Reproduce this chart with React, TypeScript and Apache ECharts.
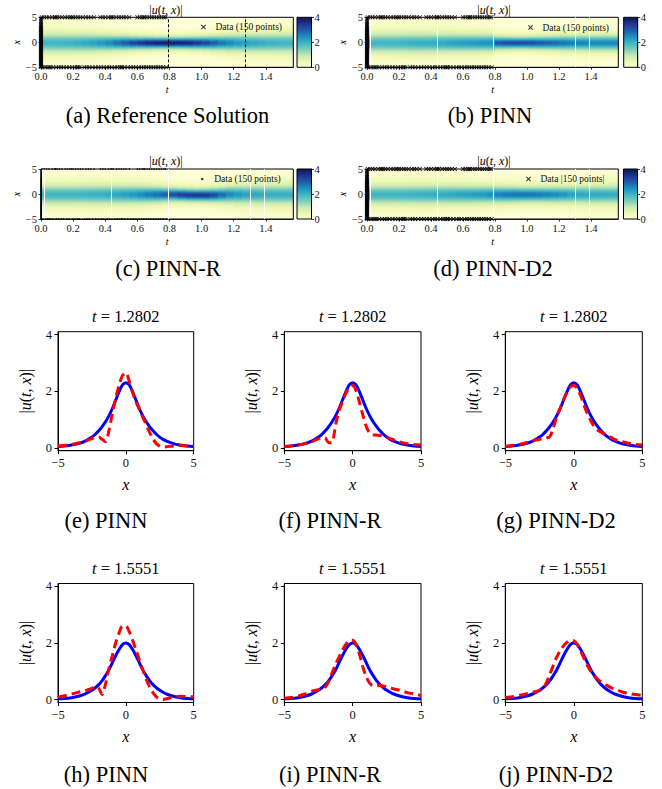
import React, { useEffect, useRef } from "react";
import * as echarts from "echarts";

const FONT = "Liberation Serif";
const T_END = Math.PI / 2;

// ---- heatmap time columns (start of each column) ----
const tCols = [0, 0.05, 0.1, 0.15, 0.2, 0.25, 0.3, 0.35, 0.4, 0.45, 0.5, 0.55, 0.6, 0.65, 0.7, 0.75, 0.8, 0.85, 0.9, 0.95, 1.0, 1.05, 1.1, 1.15, 1.2, 1.25, 1.3, 1.35, 1.4, 1.45, 1.5, 1.55];

// peak |u| and band half-width per time column
const refPeak = [2.0, 2.0, 2.02, 2.05, 2.1, 2.17, 2.27, 2.4, 2.57, 2.8, 3.05, 3.3, 3.52, 3.7, 3.82, 3.88, 3.88, 3.82, 3.7, 3.52, 3.3, 3.05, 2.8, 2.57, 2.4, 2.3, 2.22, 2.14, 2.08, 2.04, 2.01, 2.0];
const refWidth = [1.25, 1.25, 1.24, 1.21, 1.19, 1.15, 1.1, 1.04, 0.98, 0.89, 0.83, 0.76, 0.71, 0.68, 0.65, 0.64, 0.64, 0.65, 0.68, 0.71, 0.76, 0.83, 0.89, 0.98, 1.04, 1.1, 1.13, 1.16, 1.2, 1.23, 1.25, 1.25];
const refCenter = [0, 0, 0, 0, 0, 0, 0, 0, 0, 0, 0, 0, 0, 0, 0, 0, 0, 0, 0, 0, 0, 0, 0, 0, 0, 0, 0, 0, 0, 0, 0, 0];

const pinnPeak = [2.0, 2.0, 2.0, 2.02, 2.05, 2.08, 2.1, 2.12, 2.15, 2.2, 2.25, 2.3, 2.35, 2.4, 2.45, 2.5, 3.1, 3.2, 3.25, 3.25, 3.2, 3.1, 3.0, 2.9, 2.8, 2.7, 2.65, 2.6, 2.6, 2.6, 2.6, 2.6];
const pinnWidth = [1.25, 1.25, 1.25, 1.25, 1.25, 1.25, 1.25, 1.25, 1.23, 1.2, 1.18, 1.15, 1.13, 1.1, 1.08, 1.05, 0.75, 0.73, 0.7, 0.7, 0.73, 0.75, 0.79, 0.83, 0.88, 0.9, 0.93, 0.95, 0.95, 0.95, 0.95, 0.95];
const pinnCenter = [0, 0, 0, 0, 0, 0, 0, 0, 0, 0, 0, 0, 0, 0, 0, 0, 0, 0, 0, 0, 0, 0, 0, 0, 0, 0, 0, 0, 0, 0, 0, 0];

const pinnRPeak = [2.0, 2.0, 2.0, 2.0, 2.02, 2.05, 2.08, 2.1, 2.15, 2.2, 2.3, 2.4, 2.55, 2.7, 2.85, 3.0, 3.2, 3.4, 3.5, 3.55, 3.5, 3.3, 2.9, 2.6, 2.4, 2.25, 2.2, 2.15, 2.12, 2.1, 2.1, 2.1];
const pinnRWidth = [1.25, 1.25, 1.25, 1.25, 1.25, 1.25, 1.25, 1.25, 1.23, 1.2, 1.16, 1.13, 1.08, 1.0, 0.93, 0.85, 0.79, 0.75, 0.73, 0.71, 0.73, 0.78, 0.88, 1.0, 1.1, 1.15, 1.19, 1.21, 1.23, 1.25, 1.25, 1.25];
const pinnRCenter = [0, 0, 0, 0, 0, 0, 0, 0, 0, 0, 0, 0, 0, 0, 0, 0, 0, -0.05, -0.1, -0.12, -0.12, -0.1, -0.05, 0, 0, 0, 0, 0, 0, 0, 0, 0];

const pinnD2Peak = [2.0, 2.0, 2.0, 2.02, 2.04, 2.06, 2.08, 2.1, 2.12, 2.15, 2.2, 2.25, 2.3, 2.35, 2.4, 2.5, 2.65, 2.75, 2.8, 2.8, 2.78, 2.72, 2.65, 2.55, 2.45, 2.3, 2.22, 2.2, 2.18, 2.15, 2.12, 2.1];
const pinnD2Width = [1.25, 1.25, 1.25, 1.25, 1.25, 1.25, 1.25, 1.25, 1.23, 1.21, 1.19, 1.16, 1.14, 1.11, 1.09, 1.05, 1.0, 0.95, 0.93, 0.91, 0.91, 0.93, 0.95, 0.98, 1.0, 1.05, 1.1, 1.13, 1.15, 1.16, 1.18, 1.19];
const pinnD2Center = [0, 0, 0, 0, 0, 0, 0, 0, 0, 0, 0, 0, 0, 0, 0, 0, 0, 0, 0, 0, 0, 0, 0, 0, 0, 0, 0, 0, 0, 0, 0, 0];

// vertical slice lines
const refSliceT = [0.79, 1.27];
const gapT = [0.02, 0.437, 0.786, 1.296, 1.39];

// training data (150 points): initial x at t=0, boundary times at x=5 and x=-5
const initX = [-4.95, -4.75, -4.6, -4.4, -4.2, -4.05, -3.85, -3.7, -3.5, -3.3, -3.15, -2.95, -2.8, -2.6, -2.45, -2.25, -2.05, -1.9, -1.7, -1.5, -1.35, -1.15, -1.0, -0.8, -0.6, -0.45, -0.25, -0.1, 0.1, 0.3, 0.45, 0.65, 0.8, 1.0, 1.2, 1.35, 1.55, 1.75, 1.9, 2.1, 2.3, 2.5, 2.7, 2.9, 3.15, 3.4, 3.7, 4.0, 4.35, 4.75];
const topT = [0.005, 0.02, 0.035, 0.05, 0.07, 0.085, 0.1, 0.115, 0.13, 0.15, 0.165, 0.18, 0.2, 0.215, 0.23, 0.245, 0.26, 0.28, 0.295, 0.31, 0.33, 0.37, 0.385, 0.4, 0.42, 0.435, 0.45, 0.47, 0.485, 0.5, 0.515, 0.53, 0.55, 0.6, 0.615, 0.63, 0.645, 0.66, 0.675, 0.69, 0.705, 0.72, 0.735, 0.75, 0.765, 0.775, 0.09, 0.19, 0.44, 0.64];
const botT = [0.01, 0.025, 0.04, 0.06, 0.075, 0.095, 0.11, 0.125, 0.14, 0.16, 0.175, 0.195, 0.21, 0.225, 0.24, 0.27, 0.285, 0.3, 0.32, 0.34, 0.355, 0.375, 0.39, 0.41, 0.425, 0.44, 0.46, 0.475, 0.49, 0.505, 0.52, 0.54, 0.56, 0.575, 0.59, 0.61, 0.625, 0.64, 0.655, 0.67, 0.685, 0.7, 0.715, 0.73, 0.745, 0.76, 0.78, 0.05, 0.23, 0.5];

// ---- line profiles ----
const xs = [-5, -4.5, -4, -3.5, -3, -2.5, -2.25, -2, -1.75, -1.5, -1.25, -1, -0.75, -0.5, -0.25, 0, 0.25, 0.5, 0.75, 1, 1.25, 1.5, 1.75, 2, 2.25, 2.5, 2.75, 3, 3.5, 4, 4.5, 5];
const exact128 = [0.05, 0.07, 0.1, 0.15, 0.24, 0.38, 0.48, 0.6, 0.75, 0.92, 1.13, 1.38, 1.68, 1.98, 2.22, 2.3, 2.22, 1.98, 1.68, 1.38, 1.13, 0.92, 0.75, 0.6, 0.48, 0.38, 0.3, 0.24, 0.15, 0.1, 0.07, 0.05];
const exact155 = [0.03, 0.04, 0.07, 0.12, 0.2, 0.33, 0.42, 0.53, 0.67, 0.85, 1.05, 1.3, 1.55, 1.77, 1.94, 2.0, 1.94, 1.77, 1.55, 1.3, 1.05, 0.85, 0.67, 0.53, 0.42, 0.33, 0.26, 0.2, 0.12, 0.07, 0.04, 0.03];
const pinn128 = [0.07, 0.09, 0.12, 0.17, 0.24, 0.33, 0.38, 0.38, 0.3, 0.22, 0.6, 1.2, 1.75, 2.2, 2.55, 2.65, 2.35, 1.95, 1.62, 1.35, 1.08, 0.82, 0.55, 0.32, 0.15, 0.06, 0.03, 0.04, 0.07, 0.08, 0.07, 0.06];
const pinnR128 = [0.05, 0.07, 0.1, 0.15, 0.22, 0.32, 0.37, 0.35, 0.18, 0.2, 0.8, 1.3, 1.62, 1.92, 2.12, 2.2, 2.02, 1.6, 1.15, 0.75, 0.52, 0.46, 0.45, 0.44, 0.42, 0.38, 0.33, 0.28, 0.2, 0.15, 0.12, 0.1];
const pinnD2128 = [0.05, 0.08, 0.12, 0.18, 0.25, 0.3, 0.32, 0.35, 0.4, 0.7, 1.1, 1.4, 1.7, 1.95, 2.15, 2.2, 2.1, 1.85, 1.5, 1.2, 0.95, 0.75, 0.62, 0.55, 0.48, 0.42, 0.36, 0.3, 0.22, 0.16, 0.12, 0.1];
const pinn155 = [0.09, 0.14, 0.2, 0.26, 0.32, 0.4, 0.46, 0.4, 0.18, 0.55, 1.1, 1.55, 2.0, 2.35, 2.6, 2.6, 2.4, 2.1, 1.75, 1.4, 1.05, 0.72, 0.45, 0.25, 0.1, 0.03, 0.01, 0.03, 0.09, 0.12, 0.11, 0.1];
const pinnR155 = [0.05, 0.08, 0.12, 0.2, 0.3, 0.35, 0.36, 0.45, 0.65, 0.95, 1.25, 1.5, 1.75, 1.95, 2.08, 2.1, 1.95, 1.6, 1.15, 0.8, 0.58, 0.5, 0.5, 0.5, 0.48, 0.45, 0.42, 0.38, 0.32, 0.25, 0.2, 0.15];
const pinnD2155 = [0.08, 0.1, 0.15, 0.2, 0.26, 0.32, 0.4, 0.6, 0.9, 1.2, 1.5, 1.72, 1.9, 2.02, 2.1, 2.08, 1.95, 1.72, 1.45, 1.2, 1.0, 0.85, 0.72, 0.62, 0.55, 0.48, 0.42, 0.37, 0.28, 0.22, 0.18, 0.15];

const YLGNBU = ["#ffffd9", "#edf8b1", "#c7e9b4", "#7fcdbb", "#41b6c4", "#1d91c0", "#225ea8", "#253494", "#081d58"];
const XPATH = "path://M0,1.4L1.4,0L5,3.6L8.6,0L10,1.4L6.4,5L10,8.6L8.6,10L5,6.4L1.4,10L0,8.6L3.6,5Z";

const minusFmt = (v: number) => String(v).replace("-", "\u2212");
const italic = (size: number) => ({ i: { fontStyle: "italic", fontFamily: FONT, fontSize: size, color: "#000" } });

function fieldCells(peak: number[], width: number[], center: number[]) {
  const cells: number[][] = [];
  for (let i = 0; i < tCols.length; i++) {
    const t0 = tCols[i];
    const t1 = Math.min(t0 + 0.05, T_END);
    for (let j = 0; j < 50; j++) {
      const x0 = -5 + 0.2 * j;
      const x1 = x0 + 0.2;
      const xc = x0 + 0.1;
      const v = peak[i] / Math.cosh((xc - center[i]) / width[i]);
      cells.push([t0, t1, x0, x1, v]);
    }
  }
  return cells;
}

function colorbarCells() {
  const cells: number[][] = [];
  for (let k = 0; k < 100; k++) {
    const v0 = k * 0.04;
    cells.push([0, 1, v0, v0 + 0.04, v0 + 0.02]);
  }
  return cells;
}

const renderRect = (params: any, api: any) => {
  const a = api.coord([api.value(0), api.value(3)]);
  const b = api.coord([api.value(1), api.value(2)]);
  return {
    type: "rect",
    shape: { x: a[0], y: a[1], width: b[0] - a[0] + 0.6, height: b[1] - a[1] + 0.6 },
    style: { fill: api.visual("color") },
  };
};

function buildOption() {
  const heatPos = [
    { left: 41, top: 17.3, width: 252.3, height: 50 },
    { left: 367, top: 17.3, width: 251.3, height: 50 },
    { left: 41, top: 169, width: 252.3, height: 50 },
    { left: 367, top: 169, width: 251.3, height: 50 },
  ];
  const cbPos = [
    { left: 297, top: 17.3, width: 14.5, height: 50 },
    { left: 623.7, top: 17.3, width: 14, height: 50 },
    { left: 297, top: 169, width: 14.5, height: 50 },
    { left: 623.5, top: 169, width: 14, height: 50 },
  ];
  const lineLefts = [58, 284.3, 505.3];
  const lineWidths = [135.7, 136.7, 137];
  const lineTops = [331.7, 583.5];
  const lineH = 119;

  const fields = [
    fieldCells(refPeak, refWidth, refCenter),
    fieldCells(pinnPeak, pinnWidth, pinnCenter),
    fieldCells(pinnRPeak, pinnRWidth, pinnRCenter),
    fieldCells(pinnD2Peak, pinnD2Width, pinnD2Center),
  ];
  const markerNames = ["Data (150 points)", "Data (150 points)", "Data (150 points)", "Data |150 points|"];
  const trainPts = [
    ...initX.map((x) => [0, x]),
    ...topT.map((t) => [t, 5]),
    ...botT.map((t) => [t, -5]),
  ];

  const grid: any[] = [];
  const xAxis: any[] = [];
  const yAxis: any[] = [];
  const series: any[] = [];
  const legend: any[] = [];

  const axisLineS = { show: true, onZero: false, lineStyle: { color: "#000", width: 0.8 } };
  const smallTick = { show: true, length: 2.5, lineStyle: { color: "#000", width: 0.8 } };

  // heatmap grids 0..3
  heatPos.forEach((p, k) => {
    grid.push({ ...p, show: true, borderColor: "#000", borderWidth: 1, backgroundColor: "transparent", z: 5 });
    xAxis.push({
      gridIndex: k, type: "value", min: 0, max: T_END, interval: 0.2,
      axisLine: axisLineS, axisTick: smallTick, splitLine: { show: false },
      axisLabel: {
        fontSize: 10.5, fontFamily: FONT, color: "#111", margin: 4, showMaxLabel: false,
        formatter: (v: number) => {
          const q = v / 0.2;
          return Math.abs(q - Math.round(q)) < 1e-6 ? v.toFixed(1) : "";
        },
      },
      name: "{i|t}", nameLocation: "middle", nameGap: 17,
      nameTextStyle: { fontSize: 10, fontFamily: FONT, rich: italic(10) }, z: 6,
    });
    yAxis.push({
      gridIndex: k, type: "value", min: -5, max: 5, interval: 5,
      axisLine: axisLineS, axisTick: smallTick, splitLine: { show: false },
      axisLabel: { fontSize: 10.5, fontFamily: FONT, color: "#111", margin: 4, formatter: minusFmt },
      name: "{i|x}", nameLocation: "middle", nameGap: 19,
      nameTextStyle: { fontSize: 10, fontFamily: FONT, rich: italic(10) }, z: 6,
    });
  });
  // colorbar grids 4..7
  cbPos.forEach((p, k) => {
    grid.push({ ...p, show: true, borderColor: "#000", borderWidth: 1, backgroundColor: "transparent", z: 5 });
    xAxis.push({ gridIndex: 4 + k, type: "value", min: 0, max: 1, show: false, axisLine: { onZero: false } });
    yAxis.push({
      gridIndex: 4 + k, type: "value", position: "right", min: 0, max: 4, interval: 2,
      axisLine: axisLineS, axisTick: smallTick, splitLine: { show: false },
      axisLabel: { fontSize: 10.5, fontFamily: FONT, color: "#111", margin: 3 }, z: 6,
    });
  });
  // line grids 8..13
  lineTops.forEach((top) => {
    lineLefts.forEach((left, c) => {
      const gi = grid.length;
      grid.push({ left, top, width: lineWidths[c], height: lineH, show: true, borderColor: "#000", borderWidth: 1, backgroundColor: "transparent" });
      xAxis.push({
        gridIndex: gi, type: "value", min: -5, max: 5, interval: 5,
        axisLine: { show: true, onZero: false, lineStyle: { color: "#000", width: 1 } },
        axisTick: { show: true, length: 3.5, lineStyle: { color: "#000", width: 1 } },
        splitLine: { show: false },
        axisLabel: { fontSize: 12.5, fontFamily: FONT, color: "#111", margin: 6, formatter: minusFmt },
        name: "{i|x}", nameLocation: "middle", nameGap: 26,
        nameTextStyle: { fontSize: 16, fontFamily: FONT, rich: italic(16) },
      });
      yAxis.push({
        gridIndex: gi, type: "value", min: -0.1, max: 4.1,
        axisLine: { show: true, onZero: false, lineStyle: { color: "#000", width: 1 } },
        axisTick: { show: true, length: 3.5, customValues: [0, 2, 4], lineStyle: { color: "#000", width: 1 } },
        splitLine: { show: false },
        axisLabel: { fontSize: 12.5, fontFamily: FONT, color: "#111", margin: 6, customValues: [0, 2, 4] },
        name: "|{i|u}({i|t}, {i|x})|", nameLocation: "middle", nameGap: 25,
        nameTextStyle: { fontSize: 16, fontFamily: FONT, color: "#000", rich: italic(16) },
      });
    });
  });

  // series 0..3 heat fields
  fields.forEach((data, k) => {
    series.push({
      type: "custom", xAxisIndex: k, yAxisIndex: k, data, renderItem: renderRect,
      encode: { x: [0, 1], y: [2, 3] }, clip: true, silent: true, z: 1,
    });
  });
  // series 4..7 colorbars
  cbPos.forEach((_, k) => {
    series.push({
      type: "custom", xAxisIndex: 4 + k, yAxisIndex: 4 + k, data: colorbarCells(), renderItem: renderRect,
      encode: { x: [0, 1], y: [2, 3] }, clip: true, silent: true, z: 1,
    });
  });
  // series 8..11 vertical lines
  heatPos.forEach((_, k) => {
    const isRef = k === 0;
    series.push({
      type: "scatter", xAxisIndex: k, yAxisIndex: k, data: [], silent: true, z: 2,
      markLine: {
        symbol: "none", silent: true, label: { show: false },
        lineStyle: isRef ? { color: "#000", width: 1, type: [3, 2] } : { color: "#fff", width: 1, type: "solid" },
        data: (isRef ? refSliceT : gapT).map((t) => ({ xAxis: t })),
      },
    });
  });
  // series 12..15 training markers
  heatPos.forEach((_, k) => {
    const dot = k === 2;
    series.push({
      type: "scatter", name: markerNames[k], xAxisIndex: k, yAxisIndex: k, data: trainPts,
      symbol: dot ? "circle" : XPATH, symbolSize: dot ? 1.6 : 4.5,
      itemStyle: { color: "#000" }, clip: false, silent: true, z: 8,
    });
  });
  const legendPos = [
    { left: 201, top: 22 },
    { left: 528, top: 22.5 },
    { left: 201, top: 174 },
    { left: 526, top: 174 },
  ];
  legendPos.forEach((p, k) => {
    const dot = k === 2;
    legend.push({
      ...p, padding: 0, itemGap: 0, selectedMode: false, orient: "horizontal", z: 20,
      itemWidth: 14, itemHeight: dot ? 2.5 : 5,
      data: [{ name: markerNames[k], icon: dot ? "circle" : XPATH }],
      textStyle: { fontSize: 9.5, fontFamily: FONT, color: "#111" },
    });
  });

  // line series
  const exactSets = [exact128, exact128, exact128, exact155, exact155, exact155];
  const predSets = [pinn128, pinnR128, pinnD2128, pinn155, pinnR155, pinnD2155];
  for (let g = 0; g < 6; g++) {
    const gi = 8 + g;
    series.push({
      type: "line", xAxisIndex: gi, yAxisIndex: gi, data: xs.map((x, i) => [x, exactSets[g][i]]),
      showSymbol: false, smooth: 0.3, lineStyle: { color: "#0000ff", width: 3 }, z: 3, silent: true,
    });
    series.push({
      type: "line", xAxisIndex: gi, yAxisIndex: gi, data: xs.map((x, i) => [x, predSets[g][i]]),
      showSymbol: false, smooth: 0.3, lineStyle: { color: "#ff0000", width: 3, type: [9, 5] }, z: 4, silent: true,
    });
  }

  // texts
  const graphic: any[] = [];
  const txt = (x: number, y: number, text: string, size: number, rich?: any) => ({
    type: "text", x, y, silent: true,
    style: {
      text, fontSize: size, fontFamily: FONT, fill: "#000",
      align: "center", verticalAlign: "middle", textAlign: "center", textVerticalAlign: "middle",
      rich,
    },
  });
  const heatTitle = "|{i|u}({i|t}, {i|x})|";
  [[166, 9.5], [494, 9.5], [166, 161], [494, 161]].forEach(([x, y]) => graphic.push(txt(x, y, heatTitle, 12, italic(12))));
  const lineTitles = ["{i|t} = 1.2802", "{i|t} = 1.5551"];
  lineTops.forEach((top, r) => {
    lineLefts.forEach((left, c) => {
      graphic.push(txt(left + lineWidths[c] / 2, top - 15, lineTitles[r], 16.5, italic(16.5)));
    });
  });
  const captions: [string, number, number][] = [
    ["(a) Reference Solution", 167.5, 115.5],
    ["(b) PINN", 490, 115.5],
    ["(c) PINN-R", 168, 268],
    ["(d) PINN-D2", 493, 268],
    ["(e) PINN", 106, 520],
    ["(f) PINN-R", 330, 520],
    ["(g) PINN-D2", 556, 520],
    ["(h) PINN", 106, 774],
    ["(i) PINN-R", 330, 774],
    ["(j) PINN-D2", 556, 774],
  ];
  captions.forEach(([t, x, y]) => graphic.push(txt(x, y, t, 22.5)));

  return {
    animation: false,
    backgroundColor: "#fff",
    grid, xAxis, yAxis, series, legend, graphic,
    visualMap: {
      type: "continuous", show: false, min: 0, max: 4, dimension: 4,
      seriesIndex: [0, 1, 2, 3, 4, 5, 6, 7], inRange: { color: YLGNBU },
    },
  };
}

export default function App() {
  const ref = useRef<HTMLDivElement>(null);
  useEffect(() => {
    const chart = echarts.init(ref.current as HTMLDivElement, null, { renderer: "svg" });
    chart.setOption(buildOption() as any);
    return () => chart.dispose();
  }, []);
  return (
    <div
      ref={ref}
      style={{ position: "absolute", left: 0, top: 0, width: 662, height: 789, background: "#fff" }}
    />
  );
}
